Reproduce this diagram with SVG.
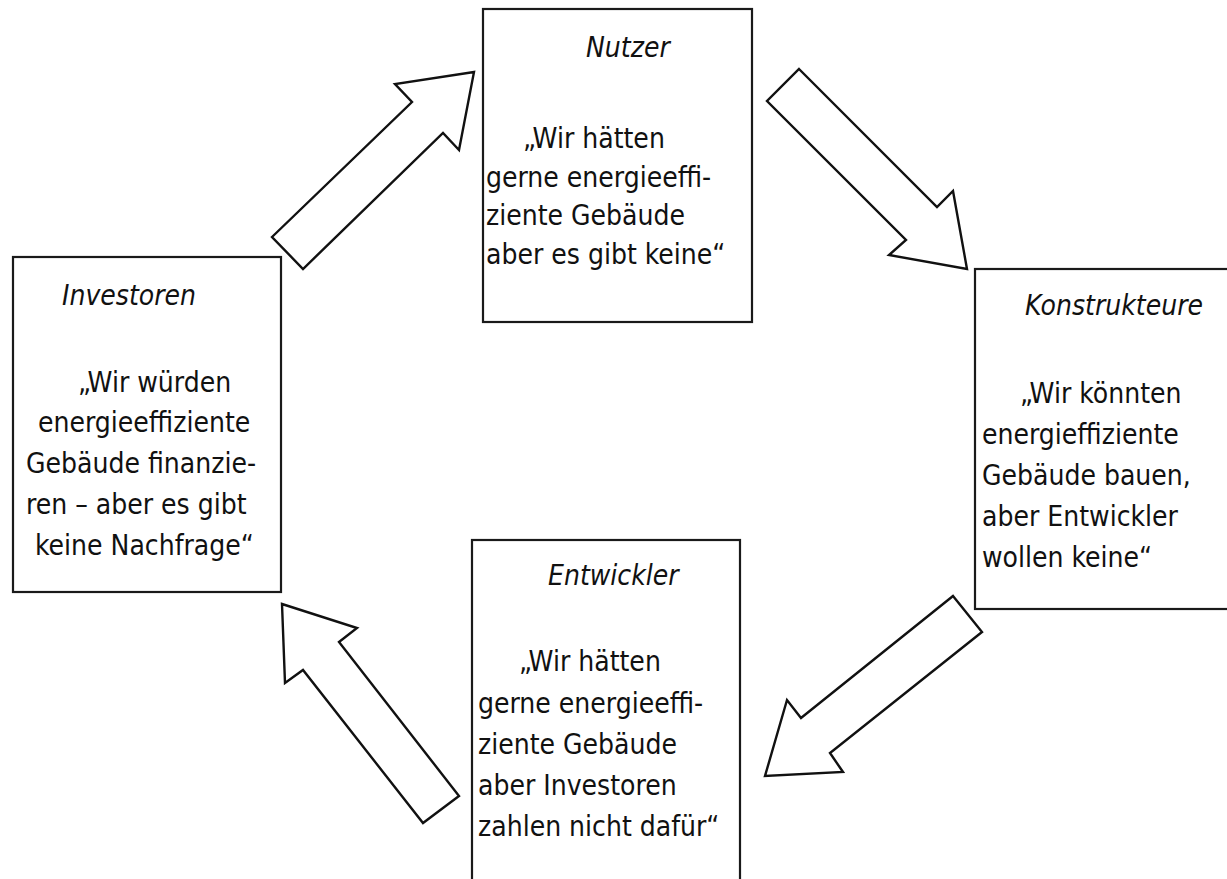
<svg xmlns="http://www.w3.org/2000/svg" width="1227" height="879" viewBox="0 0 1227 879">
<style>
.box{fill:#fff;stroke:#1a1a1a;stroke-width:2.2}
.arr{fill:#fff;stroke:#111;stroke-width:2.4;stroke-linejoin:miter}
text{font-family:"DejaVu Sans Condensed","DejaVu Sans",sans-serif;font-stretch:condensed;font-size:28px;fill:#111}
.t{font-style:italic}
</style>
<rect width="1227" height="879" fill="#fff"/>
<g id="connectors">
<polygon class="arr" points="272,237 412,102 395,84 474,72 459,150 443,133 303,269"/>
<polygon class="arr" points="799,69 937,207 953,191 967,269 889,255 906,240 767,101"/>
<polygon class="arr" points="953,596 982,632 830,753 843,772 765,776 787,700 801,718"/>
<polygon class="arr" points="282,604 357,628 339,642 459,796 423,823 303,670 285,683"/>
</g>
<g id="nutzer">
<rect class="box" x="483" y="9" width="269" height="313"/>
<text class="t" x="586" y="57">Nutzer</text>
<text x="523" y="148">„Wir hätten</text>
<text x="486" y="187">gerne energieeffi-</text>
<text x="486" y="225">ziente Gebäude</text>
<text x="486" y="264">aber es gibt keine“</text>
</g>
<g id="investoren">
<rect class="box" x="13" y="257" width="268" height="335"/>
<text class="t" x="62" y="305">Investoren</text>
<text x="78" y="392">„Wir würden</text>
<text x="38" y="432">energieeffiziente</text>
<text x="26" y="473">Gebäude finanzie-</text>
<text x="26" y="514">ren – aber es gibt</text>
<text x="35" y="555">keine Nachfrage“</text>
</g>
<g id="konstrukteure">
<rect class="box" x="975" y="269" width="270" height="340"/>
<text class="t" x="1025" y="315">Konstrukteure</text>
<text x="1020" y="403">„Wir könnten</text>
<text x="982" y="444">energieffiziente</text>
<text x="982" y="485">Gebäude bauen,</text>
<text x="982" y="526">aber Entwickler</text>
<text x="982" y="567">wollen keine“</text>
</g>
<g id="entwickler">
<rect class="box" x="472" y="540" width="268" height="360"/>
<text class="t" x="548" y="585">Entwickler</text>
<text x="519" y="671">„Wir hätten</text>
<text x="478" y="713">gerne energieeffi-</text>
<text x="478" y="754">ziente Gebäude</text>
<text x="478" y="795">aber Investoren</text>
<text x="478" y="836">zahlen nicht dafür“</text>
</g>
</svg>
